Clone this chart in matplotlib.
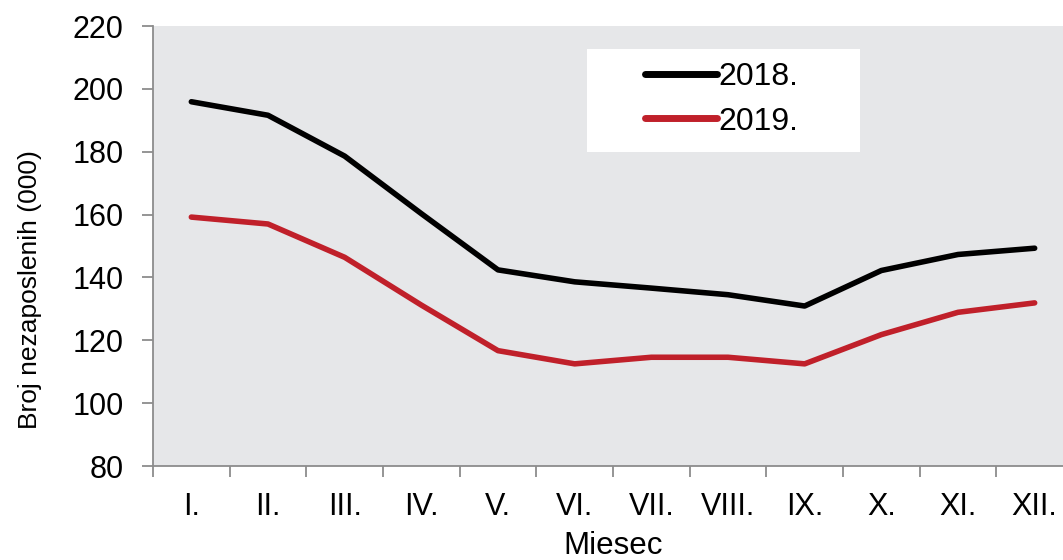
import numpy as np
import matplotlib.pyplot as plt
from matplotlib.patches import Rectangle

# podaci ocitani s grafikona
MONTHS = ["I.", "II.", "III.", "IV.", "V.", "VI.", "VII.", "VIII.", "IX.", "X.", "XI.", "XII."]
Y2018 = [195.9, 191.6, 178.6, 160.3, 142.4, 138.6, 136.6, 134.5, 130.9, 142.2, 147.3, 149.3]
Y2019 = [159.2, 157.0, 146.4, 131.2, 116.7, 112.5, 114.6, 114.6, 112.5, 121.8, 128.9, 131.9]

plt.rcParams['font.family'] = ['Liberation Sans', 'DejaVu Sans']

fig = plt.figure(figsize=(10.63, 5.6), dpi=100)
ax = fig.add_axes([153 / 1063, 94 / 560, 920 / 1063, 440 / 560])
ax.set_facecolor('#e6e7e9')

x = np.arange(len(MONTHS))
ax.plot(x, Y2018, color='black', linewidth=4.0, label='2018.', solid_capstyle='round', zorder=3)
ax.plot(x, Y2019, color='#c0202a', linewidth=4.0, label='2019.', solid_capstyle='round', zorder=3)

ax.set_xlim(-0.5, 11.5)
ax.set_ylim(80, 220)
ax.set_yticks(range(80, 221, 20))
ax.set_xticks(x)
ax.set_xticklabels(MONTHS)
ax.set_xticks(np.arange(-0.5, 12, 1), minor=True)

for s in ['top', 'right']:
    ax.spines[s].set_visible(False)
for s in ['left', 'bottom']:
    ax.spines[s].set_color('#8c8c8c')
    ax.spines[s].set_linewidth(1.3)

ax.tick_params(axis='y', length=8, width=1.3, color='#8c8c8c', labelsize=22, pad=13)
ax.tick_params(axis='x', which='major', length=0, labelsize=22, pad=19)
ax.tick_params(axis='x', which='minor', length=8, width=1.3, color='#8c8c8c')

ax.set_ylabel('Broj nezaposlenih (000)', fontsize=19)
ax.yaxis.set_label_coords(-0.121, 0.40)
ax.set_xlabel('Miesec', fontsize=22.5)
ax.xaxis.set_label_coords(0.5, -0.148)

# bijela pozadina legende
ax.add_patch(Rectangle((0.4717, 0.7136), 0.297, 0.234, transform=ax.transAxes,
                       facecolor='white', edgecolor='none', zorder=4))
leg = ax.legend(loc='center left', bbox_to_anchor=(0.5348, 0.833), fontsize=23,
                frameon=False, handlelength=2.25, handletextpad=0.05,
                borderpad=0, borderaxespad=0, labelspacing=0.45)
leg.set_zorder(5)
for h in leg.get_lines():
    h.set_linewidth(5)

fig.savefig('out.png', dpi=100)
